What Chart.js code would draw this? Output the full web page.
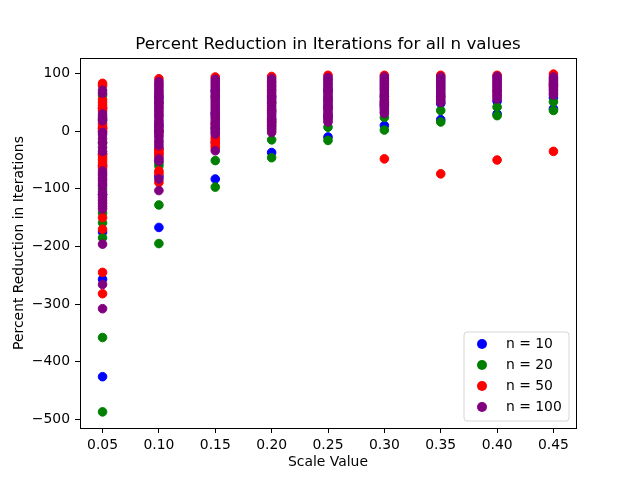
<!DOCTYPE html>
<html>
<head>
<meta charset="utf-8">
<script src="https://cdn.jsdelivr.net/npm/chart.js@4/dist/chart.umd.min.js"></script>
<style>
  html, body { margin: 0; padding: 0; background: #fff; }
</style>
</head>
<body>
<canvas id="myChart" width="640" height="480"></canvas>
<script>
// scale values on the x axis
var scaleValues = [0.05, 0.10, 0.15, 0.20, 0.25, 0.30, 0.35, 0.40, 0.45];
var xTicks = [0.05, 0.10, 0.15, 0.20, 0.25, 0.30, 0.35, 0.40, 0.45];
var yTicks = [-500, -400, -300, -200, -100, 0, 100];

// percent reduction readings, one list per scale value
var n10 = [
  [40, 5, -40, -60, -110, -175, -257, -426],
  [60, 10, -30, -78, -167],
  [70, 30, -19, -83],
  [60, 20, -37],
  [70, 25, -10],
  [45, 10],
  [48, 20],
  [52, 30],
  [58, 39]
];
var n20 = [
  [62, 20, -20, -100, -142, -159, -185, -358, -487],
  [50, 0, -55, -60, -128, -195],
  [60, 5, -51, -97],
  [50, 10, -15, -46],
  [55, 7, -16],
  [60, 24, 2],
  [36, 16],
  [42, 27],
  [51, 36]
];
var n50 = [
  [83, 79, 55, 50, 45, 40, 35, 13, 8, 4, 0, -40, -45, -50, -55, -60, -64, -150, -170, -245, -282],
  [91, -31, -34, -38, -40, -44, -69, -73, -89],
  [94, 13, -10, -14, -20, -25, -29],
  [95, 36, 16],
  [97, 40],
  [97, 50, -48],
  [97, 60, -74],
  [97, 70, -50],
  [99, 80, -35]
];
var n100 = [
  [71, 66, 30, 26, 22, 18, -2, -6, -13, -20, -28, -35, -69, -73, -77, -82, -86, -91, -95,
   -105, -110, -115, -120, -125, -130, -135, -196, -266, -308],
  [86, 82, 78, 74, 70, 66, 62, 58, 55, 51, 47, 43, 40, 36, 32, 28, 25, 20, 16, 12, 8, 4, 0,
   -2, -6, -10, -16, -20, -25, -48, -52, -83, -103],
  [90, 86, 82, 78, 74, 70, 66, 62, 58, 54, 50, 46, 42, 38, 34, 31, 27, 24, 20, 16, 12, 8, 5,
   1, -2, -5, -34],
  [91, 87, 84, 80, 77, 73, 70, 66, 62, 58, 55, 51, 48, 44, 40, 36, 33, 30, 26, 22, 18, 15,
   12, 8, 5, 2, -2],
  [93, 90, 87, 83, 80, 76, 73, 70, 66, 62, 59, 55, 52, 48, 45, 42, 38, 34, 30, 27, 23, 20, 16],
  [94, 91, 88, 85, 82, 79, 76, 73, 70, 66, 63, 60, 56, 53, 50, 47, 44, 41, 38, 34, 31],
  [94, 91, 88, 85, 82, 79, 76, 73, 70, 66, 63, 60, 56, 53, 50],
  [95, 92, 89, 86, 83, 80, 77, 74, 70, 67, 63, 60, 56],
  [94, 91, 88, 85, 82, 79, 76, 73, 70, 66, 63]
];

var seriesLabels = ['n = 10', 'n = 20', 'n = 50', 'n = 100'];
var seriesColors = ['#0000ff', '#008000', '#ff0000', '#800080'];
var seriesValues = [n10, n20, n50, n100];

function toPoints(values) {
  var pts = [];
  for (let i = 0; i < scaleValues.length; i++) {
    values[i].forEach(function(v) {
      pts.push({x: scaleValues[i], y: v});
    });
  }
  return pts;
}

var datasets = seriesValues.map(function(values, i) {
  return {
    label: seriesLabels[i],
    data: toPoints(values),
    backgroundColor: seriesColors[i],
    borderColor: seriesColors[i],
    borderWidth: 1,
    pointRadius: 4.3,
    pointHoverRadius: 4.3,
    // later series sit on top, like matplotlib
    order: seriesValues.length - 1 - i
  };
});

var fontFamily = "'DejaVu Sans', sans-serif";
var titleText = 'Percent Reduction in Iterations for all n values';

// title over the plot, box round the plot + legend in the lower right
var framePlugin = {
  id: 'frame',
  afterDraw: function(chart) {
    var ctx = chart.ctx;
    var a = chart.chartArea;
    ctx.save();
    ctx.strokeStyle = '#000';
    ctx.lineWidth = 1;
    ctx.strokeRect(Math.round(a.left) + 0.5, Math.round(a.top) + 0.5,
                   Math.round(a.right - a.left), Math.round(a.bottom - a.top));

    ctx.fillStyle = '#000';
    ctx.font = '16.7px ' + fontFamily;
    ctx.textAlign = 'center';
    ctx.textBaseline = 'alphabetic';
    ctx.fillText(titleText, (a.left + a.right) / 2, a.top - 9);

    // legend
    var bx = 464, by = 332, bw = 105, bh = 89, r = 3;
    ctx.beginPath();
    ctx.moveTo(bx + r, by);
    ctx.arcTo(bx + bw, by, bx + bw, by + bh, r);
    ctx.arcTo(bx + bw, by + bh, bx, by + bh, r);
    ctx.arcTo(bx, by + bh, bx, by, r);
    ctx.arcTo(bx, by, bx + bw, by, r);
    ctx.closePath();
    ctx.fillStyle = 'rgba(255,255,255,0.8)';
    ctx.fill();
    ctx.strokeStyle = '#d6d6d6';
    ctx.stroke();

    ctx.font = '13.9px ' + fontFamily;
    ctx.textAlign = 'left';
    ctx.textBaseline = 'middle';
    chart.data.datasets.forEach(function(ds, i) {
      var cy = 344 + i * 21;
      ctx.beginPath();
      ctx.arc(482, cy, 5, 0, Math.PI * 2);
      ctx.fillStyle = ds.backgroundColor;
      ctx.fill();
      ctx.fillStyle = '#000';
      ctx.fillText(ds.label, 506, cy);
    });
    ctx.restore();
  }
};

var ctx = document.getElementById('myChart').getContext('2d');
new Chart(ctx, {
  type: 'scatter',
  data: { datasets: datasets },
  options: {
    responsive: false,
    animation: false,
    layout: { padding: { left: 0, right: 64, top: 58, bottom: 0 } },
    plugins: {
      legend: { display: false },
      tooltip: { enabled: false },
      title: { display: false }
    },
    scales: {
      x: {
        type: 'linear',
        min: 0.03,
        max: 0.47,
        afterBuildTicks: function(scale) {
          scale.ticks = xTicks.map(function(v) { return {value: v}; });
        },
        afterFit: function(scale) { scale.height = 52; },
        ticks: {
          color: '#000',
          padding: 4,
          maxRotation: 0,
          font: { family: fontFamily, size: 13.9 },
          callback: function(v) { return Number(v).toFixed(2); }
        },
        grid: { drawOnChartArea: false, drawTicks: true, tickLength: 5, color: '#000' },
        border: { color: '#000' },
        title: {
          display: true,
          text: 'Scale Value',
          color: '#000',
          font: { family: fontFamily, size: 13.9 },
          padding: { top: 0, bottom: 9 }
        }
      },
      y: {
        type: 'linear',
        min: -515,
        max: 127,
        afterBuildTicks: function(scale) {
          scale.ticks = yTicks.map(function(v) { return {value: v}; });
        },
        afterFit: function(scale) { scale.width = 80; },
        ticks: {
          color: '#000',
          padding: 5,
          font: { family: fontFamily, size: 13.9 },
          callback: function(v) { return String(v).replace('-', '\u2212'); }
        },
        grid: { drawOnChartArea: false, drawTicks: true, tickLength: 5, color: '#000' },
        border: { color: '#000' },
        title: {
          display: true,
          text: 'Percent Reduction in Iterations',
          color: '#000',
          font: { family: fontFamily, size: 13.9 },
          padding: { top: 11, bottom: 0 }
        }
      }
    }
  },
  plugins: [framePlugin]
});
</script>
</body>
</html>
